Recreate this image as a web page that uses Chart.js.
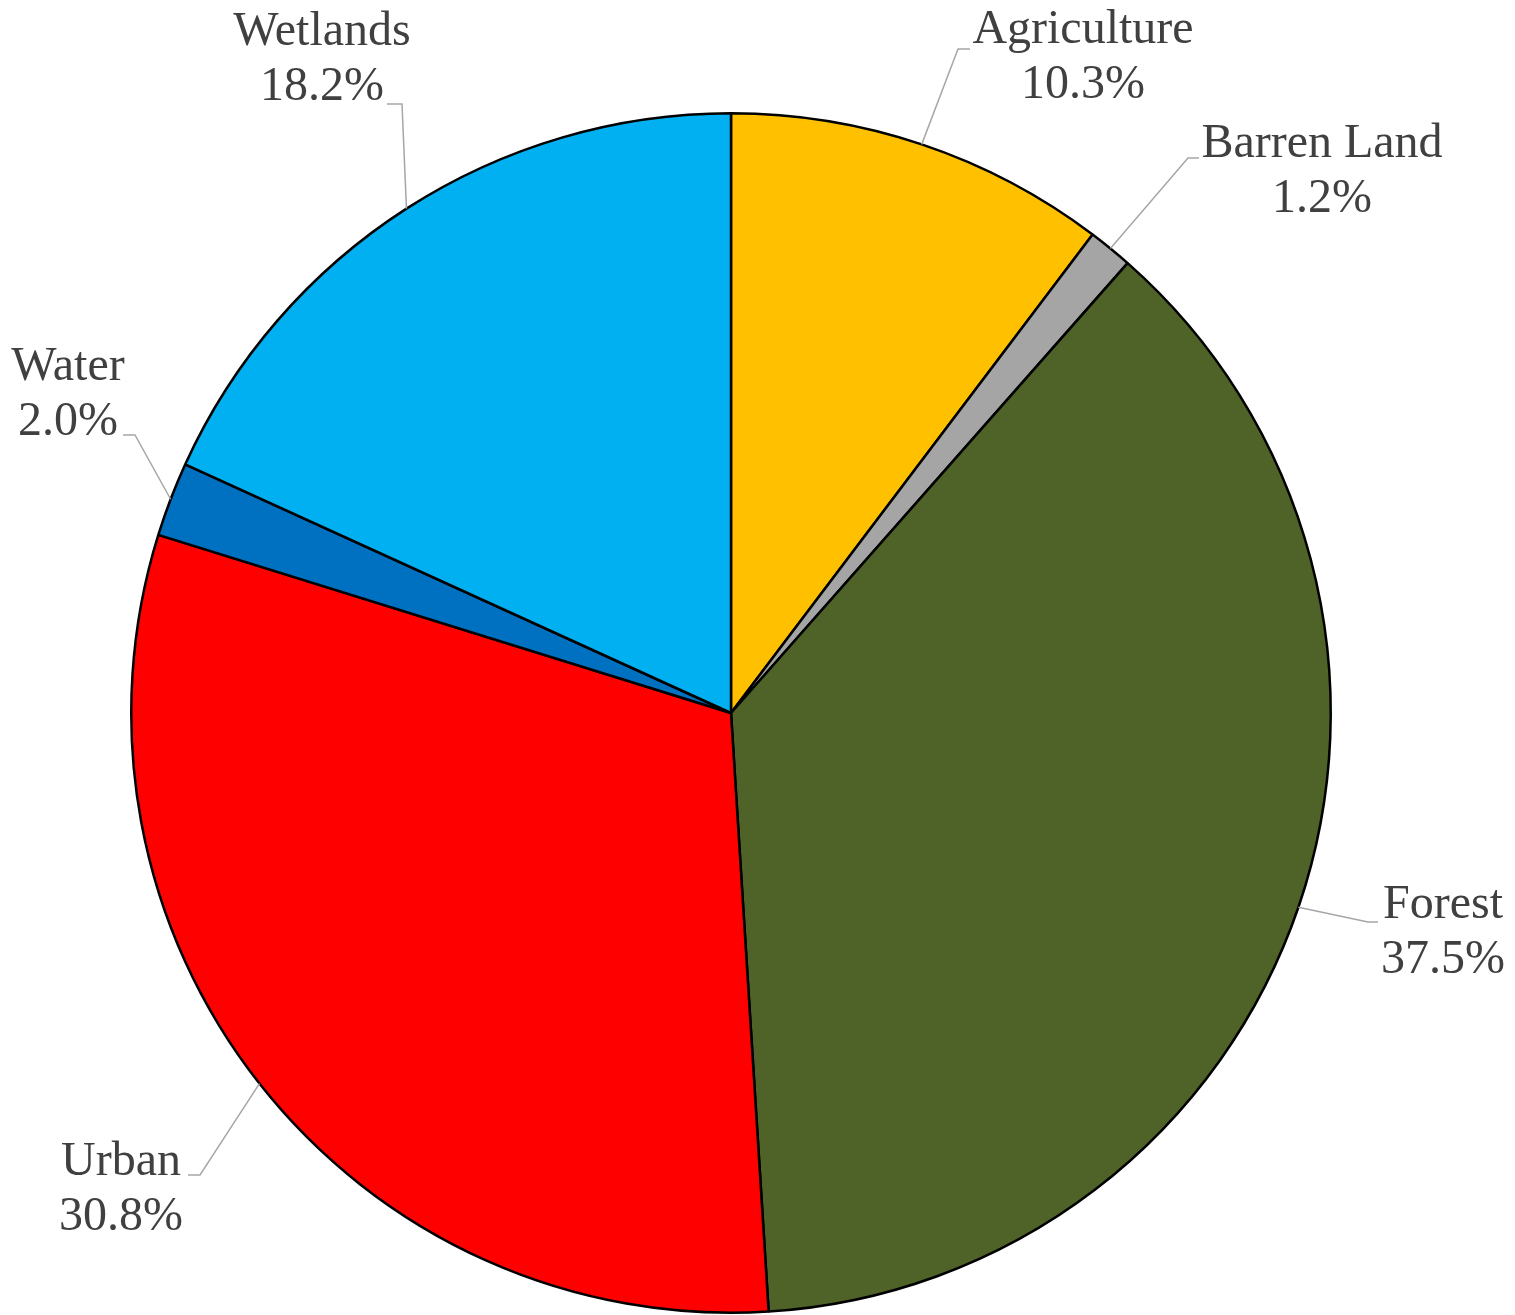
<!DOCTYPE html>
<html>
<head>
<meta charset="utf-8">
<script src="https://cdn.jsdelivr.net/npm/chart.js@4/dist/chart.umd.min.js"></script>
<style>
  body { margin: 0; background: #fff; }
  #wrap { width: 1515px; height: 1315px; }
</style>
</head>
<body>
<div id="wrap"><canvas id="myCanvas"></canvas></div>
<script>
// land cover shares, clockwise from 12 o'clock
var landUse = ["Agriculture", "Barren Land", "Forest", "Urban", "Water", "Wetlands"];
var share = [10.3, 1.2, 37.5, 30.8, 2.0, 18.2];
var sliceColors = ["#FFC000", "#A5A5A5", "#4F6228", "#FF0000", "#0070C0", "#00B0F0"];

// where each callout sits: text centre x, first baseline, leader elbow and end
var callouts = [
    {cx: 1083, by: 43,   elbow: [958, 49],   end: [970, 49]},
    {cx: 1322, by: 157,  elbow: [1188, 158], end: [1199, 158]},
    {cx: 1443, by: 918,  elbow: [1368, 922], end: [1378, 922]},
    {cx: 121,  by: 1175, elbow: [200, 1175], end: [188, 1175]},
    {cx: 68,   by: 380,  elbow: [135, 435],  end: [123, 435]},
    {cx: 322,  by: 45,   elbow: [402, 104],  end: [387, 104]}
];

var calloutPlugin = {
    id: "callouts",
    afterDatasetsDraw: function (chart) {
        var ctx = chart.ctx;
        var arcs = chart.getDatasetMeta(0).data;
        ctx.save();
        arcs.forEach(function (arc, i) {
            var p = arc.getProps(["x", "y", "startAngle", "endAngle", "outerRadius"], true);
            var mid = (p.startAngle + p.endAngle) / 2;
            var ax = p.x + Math.cos(mid) * p.outerRadius;
            var ay = p.y + Math.sin(mid) * p.outerRadius;
            var c = callouts[i];
            ctx.strokeStyle = "#A6A6A6";
            ctx.lineWidth = 1.5;
            ctx.beginPath();
            ctx.moveTo(ax, ay);
            ctx.lineTo(c.elbow[0], c.elbow[1]);
            ctx.lineTo(c.end[0], c.end[1]);
            ctx.stroke();

            ctx.fillStyle = "#404040";
            ctx.font = "48px 'Liberation Serif', 'Times New Roman', serif";
            ctx.textAlign = "center";
            ctx.textBaseline = "alphabetic";
            ctx.fillText(landUse[i], c.cx, c.by);
            ctx.fillText(share[i].toFixed(1) + "%", c.cx, c.by + 55);
        });
        ctx.restore();
    }
};

new Chart(document.getElementById("myCanvas"), {
    type: "pie",
    data: {
        labels: landUse,
        datasets: [{
            data: share,
            backgroundColor: sliceColors,
            borderColor: "#000000",
            borderWidth: 2.5
        }]
    },
    options: {
        responsive: true,
        maintainAspectRatio: false,
        animation: false,
        layout: {padding: {top: 112, bottom: 1, left: 130, right: 183}},
        plugins: {
            legend: {display: false},
            tooltip: {enabled: false}
        }
    },
    plugins: [calloutPlugin]
});
</script>
</body>
</html>
